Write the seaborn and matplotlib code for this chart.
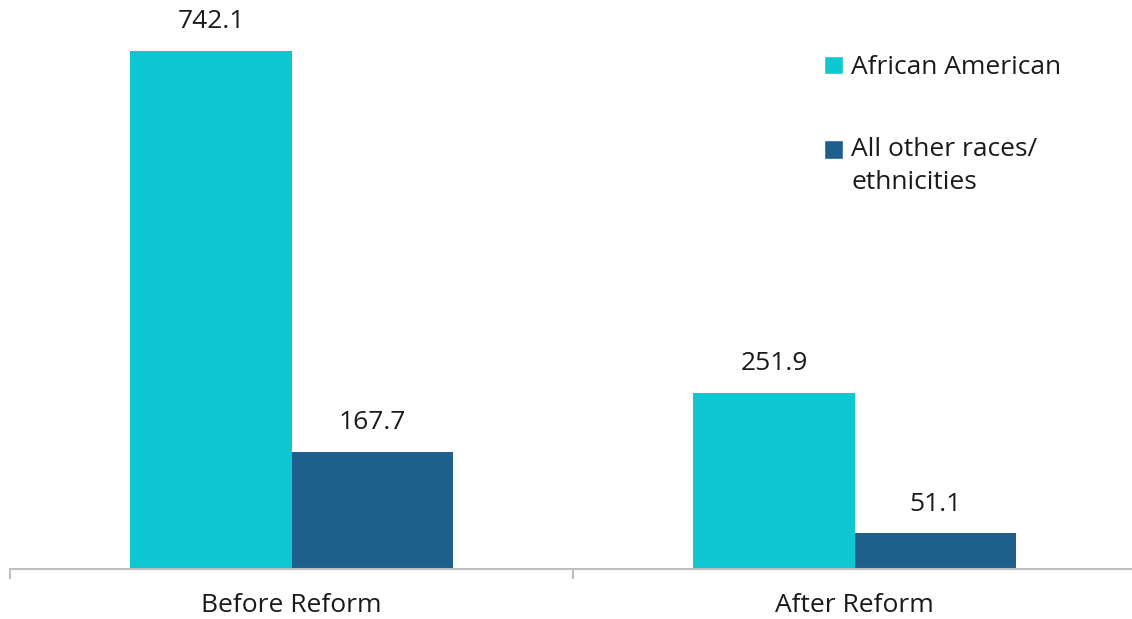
import numpy as np
import pandas as pd
import matplotlib
matplotlib.use("Agg")
import matplotlib.pyplot as plt
import seaborn as sns
from matplotlib.patches import Patch, Rectangle
from matplotlib.legend_handler import HandlerPatch

periods = ["Before Reform", "After Reform"]
groups = ["African American", "All other races/\nethnicities"]
african_american = [742.1, 251.9]
all_other = [167.7, 51.1]
colors = ["#0FC6D3", "#1E5F8E"]

df = pd.DataFrame({
    "period": periods * 2,
    "group": [groups[0]] * 2 + [groups[1]] * 2,
    "value": african_american + all_other,
})

sns.set_style("white")
plt.rcParams['font.family'] = ['Open Sans', 'DejaVu Sans']
fs = 19

fig = plt.figure(figsize=(11.32, 6.19), dpi=100)
ax = fig.add_axes([10 / 1132, 1 - 569 / 619, 1126 / 1132, 569 / 619])

sns.barplot(data=df, x="period", y="value", hue="group", palette=colors,
            width=0.572, saturation=1, linewidth=0, ax=ax, legend=False)

for c in ax.containers:
    ax.bar_label(c, labels=[f"{v:.1f}" for v in c.datavalues],
                 padding=12, fontsize=fs, color="#1a1a1a")

ax.set_ylim(0, 815)
ax.set_xlim(-0.5, 1.5)
ax.set_xlabel("")
ax.set_ylabel("")
ax.set_yticks([])
for s in ["top", "right", "left"]:
    ax.spines[s].set_visible(False)
ax.spines["bottom"].set_color("#BFBFBF")
ax.spines["bottom"].set_linewidth(1.5)

ax.set_xticks([-0.5, 0.5, 1.5], minor=True)
ax.tick_params(axis="x", which="major", bottom=False, labelsize=fs,
               labelcolor="#1a1a1a", pad=14)
ax.tick_params(axis="x", which="minor", bottom=True, length=7, width=1.5,
               color="#BFBFBF")


# square on the first line of a wrapped label
def top_square(legend, orig_handle, xdescent, ydescent, width, height, fontsize):
    return Rectangle((-xdescent, -ydescent + 12.2), width, height)


def mid_square(legend, orig_handle, xdescent, ydescent, width, height, fontsize):
    return Rectangle((-xdescent, -ydescent), width, height)


handles = [Patch(facecolor=colors[0]), Patch(facecolor=colors[1])]
leg = ax.legend(handles, groups, loc="upper left", bbox_to_anchor=(0.702, 0.945),
                frameon=False, fontsize=fs, handlelength=0.7, handleheight=0.7,
                handletextpad=0.33, labelspacing=2.15,
                handler_map={handles[0]: HandlerPatch(patch_func=mid_square),
                             handles[1]: HandlerPatch(patch_func=top_square)})
for t in leg.get_texts():
    t.set_color("#1a1a1a")
    t.set_linespacing(1.45)

fig.savefig("out.png", dpi=100)
